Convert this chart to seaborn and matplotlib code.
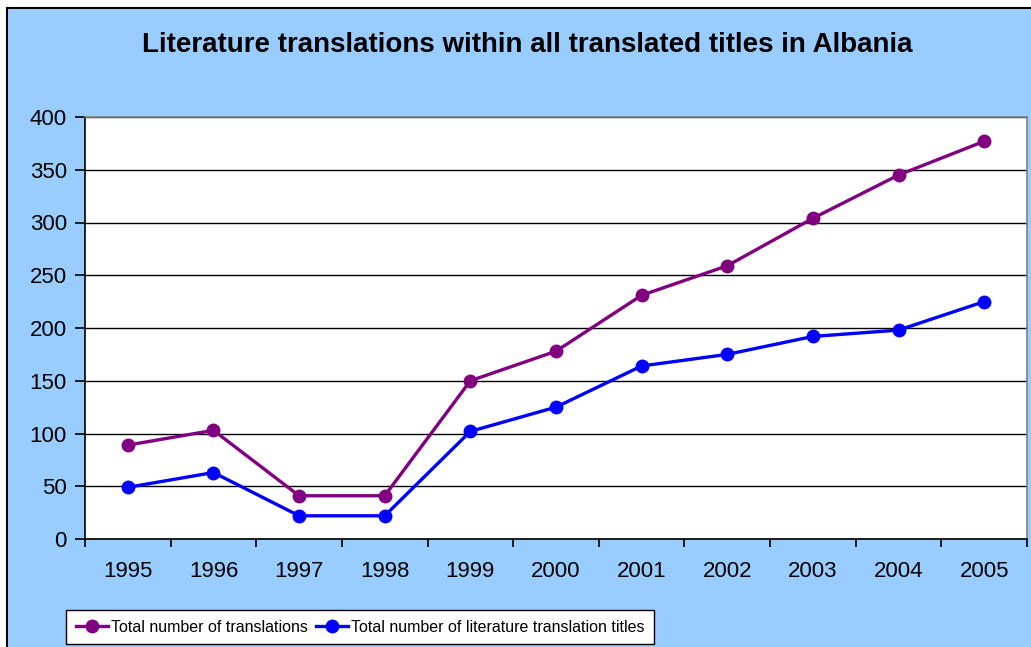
import matplotlib
matplotlib.use("Agg")
import matplotlib.pyplot as plt
import seaborn as sns
import pandas as pd
import numpy as np
from matplotlib.lines import Line2D

years = ["1995", "1996", "1997", "1998", "1999", "2000", "2001", "2002", "2003", "2004", "2005"]
total_translations = [89, 103, 41, 41, 150, 178, 231, 259, 304, 345, 377]
literature_titles = [49, 63, 22, 22, 102, 125, 164, 175, 192, 198, 225]
series_names = ["Total number of translations", "Total number of literature translation titles"]
title = "Literature translations within all translated titles in Albania"

df = pd.DataFrame({
    "year": years * 2,
    "value": total_translations + literature_titles,
    "series": [series_names[0]] * len(years) + [series_names[1]] * len(years),
})
df["pos"] = list(range(len(years))) * 2

plt.rcParams['font.family'] = ['Liberation Sans', 'DejaVu Sans']

bg = "#99CCFF"
fig = plt.figure(figsize=(10.31, 6.47), dpi=100, facecolor=bg)
ax = fig.add_axes([85/1031, 1-539/647, (1027-85)/1031, (539-117)/647])
ax.set_facecolor("white")

palette = {series_names[0]: "#800080", series_names[1]: "#0000FF"}
sns.lineplot(data=df, x="pos", y="value", hue="series", palette=palette, ax=ax,
             marker="o", markersize=10, linewidth=2.4, markeredgewidth=0, legend=False)

ax.set_xlim(-0.5, len(years) - 0.5)
ax.set_ylim(0, 400)
ax.set_yticks(np.arange(0, 401, 50))
ax.set_xticks(range(len(years)))
ax.set_xticklabels(years)
ax.set_xticks(np.arange(-0.5, len(years), 1), minor=True)
ax.tick_params(axis="x", which="major", length=0, labelsize=16, pad=16, colors="black")
ax.tick_params(axis="x", which="minor", length=6, width=1.2, direction="out", color="black")
ax.tick_params(axis="y", length=7, width=1.2, direction="out", labelsize=16, pad=6, colors="black")
ax.set_xlabel("")
ax.set_ylabel("")
ax.grid(axis="y", color="black", linewidth=1.0)
ax.grid(axis="x", visible=False)
ax.set_axisbelow(True)
for s in ["top", "right"]:
    ax.spines[s].set_color("#808080")
    ax.spines[s].set_linewidth(1.2)
for s in ["left", "bottom"]:
    ax.spines[s].set_color("black")
    ax.spines[s].set_linewidth(1.2)

fig.text(527/1031, 1-45/647, title, ha="center", va="center", fontsize=20, fontweight="bold")

handles = [Line2D([0], [0], color=palette[n], marker="o", markersize=10, linewidth=2.4,
                  markeredgewidth=0) for n in series_names]
leg = fig.legend(handles, series_names, loc="center", bbox_to_anchor=(360/1031, 1-627/647),
                 ncol=2, prop={'size': 11.5},
                 frameon=True, fancybox=False, edgecolor="black",
                 handlelength=2.0, handletextpad=0.2, columnspacing=0.5, borderpad=0.6)
leg.get_frame().set_linewidth(1.0)
leg.get_frame().set_facecolor("white")
leg.get_frame().set_alpha(1)

fig.add_artist(Line2D([7/1031, 7/1031], [0, 1-8/647], color="black", linewidth=1.5, transform=fig.transFigure))
fig.add_artist(Line2D([7/1031, 1], [1-8/647, 1-8/647], color="black", linewidth=1.5, transform=fig.transFigure))
fig.patches.append(plt.Rectangle((0, 1-8/647), 1, 8/647, transform=fig.transFigure, color="white", zorder=-1))
fig.patches.append(plt.Rectangle((0, 0), 7/1031, 1, transform=fig.transFigure, color="white", zorder=-1))

fig.savefig("out.png", dpi=100, facecolor=bg)
